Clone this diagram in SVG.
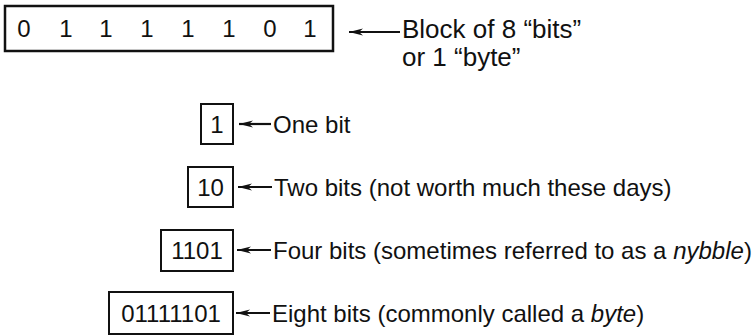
<svg xmlns="http://www.w3.org/2000/svg" width="756" height="336" viewBox="0 0 756 336">
<defs>
<style>
text{font-family:"Liberation Sans",Arial,sans-serif;font-size:24px;fill:#111}
.lbl{font-size:26px}
.box{fill:#fff;stroke:#111;stroke-width:2}
.big{fill:#fff;stroke:#111;stroke-width:2.5}
.d{text-anchor:middle}
.con{stroke:#111;stroke-width:2.2;fill:none}
</style>
<marker id="ah" markerWidth="14" markerHeight="8" refX="14" refY="4" orient="auto" markerUnits="userSpaceOnUse" viewBox="0 0 14 8">
<path d="M14,4 L0,0.5 L4,4 L0,7.5 Z" fill="#111"/>
</marker>
</defs>
<rect width="756" height="336" fill="#fff"/>
<g id="byte-block">
<rect class="big" x="5" y="6" width="328" height="45"/>
<text class="d" x="24" y="37">0</text>
<text class="d" x="66" y="37">1</text>
<text class="d" x="106" y="37">1</text>
<text class="d" x="147" y="37">1</text>
<text class="d" x="188" y="37">1</text>
<text class="d" x="229" y="37">1</text>
<text class="d" x="270" y="37">0</text>
<text class="d" x="310" y="37">1</text>
</g>
<g id="byte-label">
<text class="lbl" x="402" y="38">Block of 8 “bits”</text>
<text class="lbl" x="402" y="66">or 1 “byte”</text>
</g>
<g id="one-bit">
<rect class="box" x="201" y="104" width="32" height="40"/>
<text class="d" x="217" y="133">1</text>
<text x="273" y="133">One bit</text>
</g>
<g id="two-bits">
<rect class="box" x="188" y="167" width="45" height="40"/>
<text class="d" x="210.5" y="196">10</text>
<text x="274" y="196">Two bits (not worth much these days)</text>
</g>
<g id="four-bits">
<rect class="box" x="161" y="230" width="72" height="41"/>
<text class="d" x="197" y="259">1101</text>
<text x="273" y="259">Four bits (sometimes referred to as a <tspan font-style="italic">nybble</tspan>)</text>
</g>
<g id="eight-bits">
<rect class="box" x="109" y="292" width="124" height="42"/>
<text class="d" x="171" y="322">01111101</text>
<text x="272" y="322">Eight bits (commonly called a <tspan font-style="italic">byte</tspan>)</text>
</g>
<g id="connectors">
<line class="con" x1="400" y1="32" x2="349" y2="32" marker-end="url(#ah)"/>
<line class="con" x1="271" y1="124" x2="239" y2="124" marker-end="url(#ah)"/>
<line class="con" x1="272" y1="187" x2="238" y2="187" marker-end="url(#ah)"/>
<line class="con" x1="271" y1="250" x2="237" y2="250" marker-end="url(#ah)"/>
<line class="con" x1="270" y1="313" x2="236" y2="313" marker-end="url(#ah)"/>
</g>
</svg>
